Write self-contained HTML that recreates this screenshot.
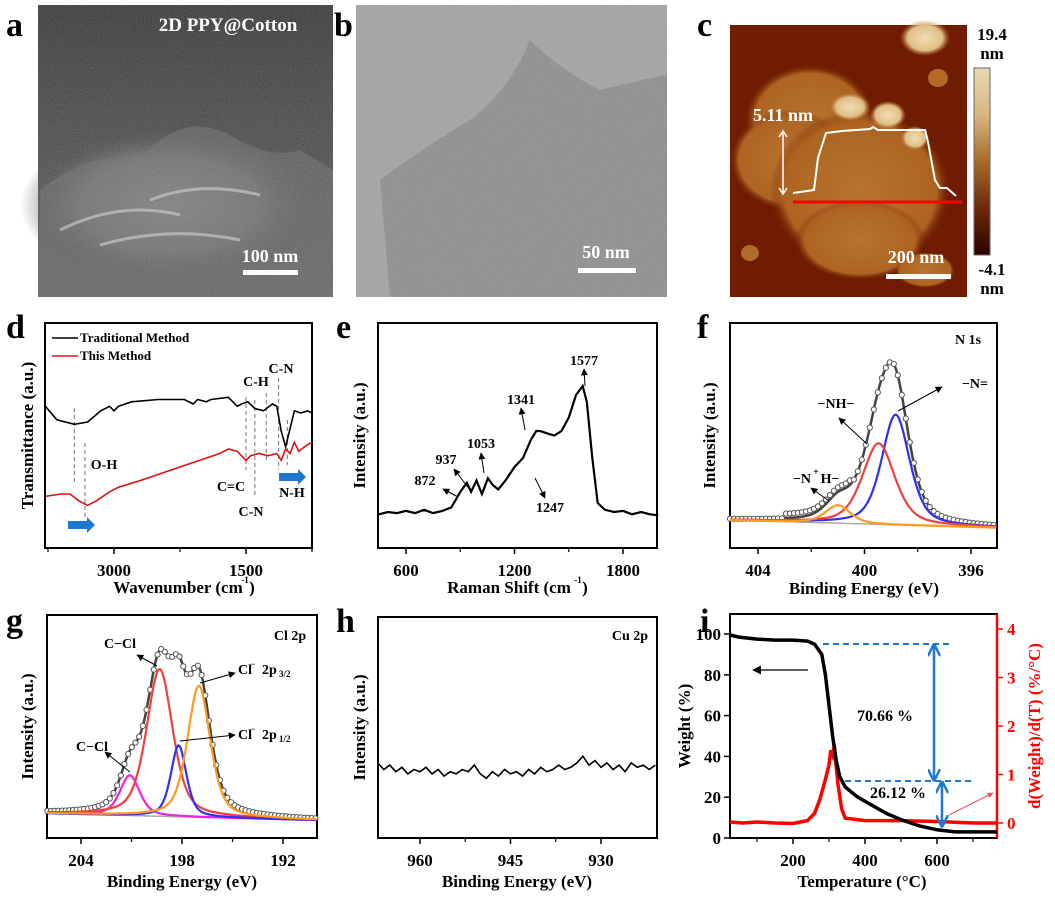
<!DOCTYPE html>
<html><head><meta charset="utf-8"><style>
body{margin:0;background:#fff}
svg text{font-family:"Liberation Serif",serif;font-weight:bold}
</style></head><body>
<svg id="fig" width="1055" height="904" viewBox="0 0 1055 904" xmlns="http://www.w3.org/2000/svg">
<defs>
<radialGradient id="semObj" cx="0.5" cy="0.5" r="0.5"><stop offset="0" stop-color="#9a9a9a"/><stop offset="0.6" stop-color="#777"/><stop offset="1" stop-color="#444" stop-opacity="0"/></radialGradient>
<linearGradient id="semBg" x1="0" y1="0" x2="0" y2="1"><stop offset="0" stop-color="#333"/><stop offset="0.4" stop-color="#444"/><stop offset="1" stop-color="#5a5a5a"/></linearGradient>
<radialGradient id="afmBlob" cx="0.5" cy="0.5" r="0.5"><stop offset="0" stop-color="#b8732e"/><stop offset="0.85" stop-color="#ad6422"/><stop offset="1" stop-color="#7a2a05" stop-opacity="0"/></radialGradient>
<radialGradient id="afmHi" cx="0.5" cy="0.5" r="0.5"><stop offset="0" stop-color="#f0dcb0"/><stop offset="0.7" stop-color="#e0bf88"/><stop offset="1" stop-color="#c08040" stop-opacity="0"/></radialGradient>
<linearGradient id="cbar" x1="0" y1="0" x2="0" y2="1"><stop offset="0" stop-color="#e8d8b4"/><stop offset="0.25" stop-color="#d8b680"/><stop offset="0.5" stop-color="#a86a28"/><stop offset="0.75" stop-color="#6e2a08"/><stop offset="1" stop-color="#2e0000"/></linearGradient>
<filter id="noise"><feTurbulence type="fractalNoise" baseFrequency="0.9" numOctaves="2" seed="3"/><feColorMatrix type="saturate" values="0"/><feComponentTransfer><feFuncA type="linear" slope="0.35"/></feComponentTransfer><feComposite in2="SourceGraphic" operator="in"/></filter>
<marker id="arrB" viewBox="0 0 10 10" refX="9" refY="5" markerWidth="7" markerHeight="7" orient="auto-start-reverse"><path d="M0,0 L10,5 L0,10 z" fill="#000"/></marker>
<marker id="arrBl" viewBox="0 0 10 10" refX="9" refY="5" markerWidth="5" markerHeight="5" orient="auto-start-reverse"><path d="M0,0 L10,5 L0,10" fill="none" stroke="#1e78d0" stroke-width="2"/></marker>
<marker id="arrR" viewBox="0 0 10 10" refX="9" refY="5" markerWidth="6" markerHeight="6" orient="auto"><path d="M0,0 L10,5 L0,10 z" fill="#f05050"/></marker>
</defs>

<g>
<rect x="38" y="5" width="295" height="292" fill="url(#semBg)"/>
<ellipse cx="170" cy="205" rx="150" ry="80" fill="url(#semObj)"/>
<path d="M40,190 Q90,150 140,160 Q180,110 230,135 Q270,160 300,150 L333,170 L333,297 L38,297 Z" fill="#6a6a6a" opacity="0.6"/>
<path d="M60,230 Q120,200 180,215 M100,245 Q170,225 240,240 M150,200 Q200,180 260,195" stroke="#c8c8c8" stroke-width="3" fill="none" opacity="0.7"/>
<rect x="38" y="5" width="295" height="292" fill="#888" filter="url(#noise)"/>
<text x="228" y="31" font-size="19" fill="#fff" text-anchor="middle">2D PPY@Cotton</text>
<text x="270" y="262" font-size="18" fill="#fff" text-anchor="middle">100 nm</text>
<rect x="243" y="270" width="55" height="5" fill="#fff"/>
</g>
<g>
<rect x="356" y="5" width="311" height="292" fill="#a2a2a2"/>
<path d="M390,297 L380,180 Q420,150 470,120 Q510,90 530,40 Q560,70 600,90 Q640,80 667,75 L667,297 Z" fill="#8c8c8c"/>
<rect x="356" y="5" width="311" height="292" fill="#777" filter="url(#noise)"/>
<text x="606" y="258" font-size="18" fill="#fff" text-anchor="middle">50 nm</text>
<rect x="578" y="268" width="58" height="5" fill="#fff"/>
</g>
<g>
<rect x="730" y="25" width="237" height="272" fill="#701c02"/>
<ellipse cx="810" cy="120" rx="65" ry="55" fill="url(#afmBlob)"/>
<ellipse cx="790" cy="160" rx="60" ry="50" fill="url(#afmBlob)"/>
<ellipse cx="860" cy="190" rx="90" ry="80" fill="url(#afmBlob)"/>
<ellipse cx="860" cy="240" rx="65" ry="40" fill="url(#afmBlob)"/>
<ellipse cx="925" cy="270" rx="30" ry="18" fill="url(#afmBlob)"/>
<ellipse cx="925" cy="38" rx="25" ry="18" fill="url(#afmHi)"/>
<ellipse cx="850" cy="107" rx="20" ry="14" fill="url(#afmHi)"/>
<ellipse cx="888" cy="115" rx="18" ry="14" fill="url(#afmHi)"/>
<ellipse cx="915" cy="138" rx="14" ry="12" fill="url(#afmHi)"/>
<ellipse cx="938" cy="78" rx="10" ry="9" fill="#b26a28"/>
<ellipse cx="750" cy="253" rx="9" ry="8" fill="#b06a2a"/>
<polyline points="793,193 814,190 818,158 826,133 842,131 870,129 873,127 878,130 925,130 928,142 935,180 940,188 947,188 956,196" fill="none" stroke="#fff" stroke-width="2"/>
<line x1="793" y1="202" x2="962" y2="202" stroke="#f00" stroke-width="3"/>
<line x1="783" y1="132" x2="783" y2="193" stroke="#fff" stroke-width="1.5"/>
<path d="M779,137 L783,131 L787,137 M779,188 L783,194 L787,188" stroke="#fff" stroke-width="1.5" fill="none"/>
<text x="783" y="121" font-size="18" fill="#fff" text-anchor="middle">5.11 nm</text>
<text x="916" y="263" font-size="18" fill="#fff" text-anchor="middle">200 nm</text>
<rect x="886" y="274" width="65" height="5" fill="#fff"/>
<rect x="974" y="68" width="16" height="187" fill="url(#cbar)" stroke="#666" stroke-width="1"/>
<text x="992" y="40" font-size="17" text-anchor="middle">19.4</text>
<text x="992" y="59" font-size="17" text-anchor="middle">nm</text>
<text x="992" y="275" font-size="17" text-anchor="middle">-4.1</text>
<text x="992" y="294" font-size="17" text-anchor="middle">nm</text>
</g>
<g font-size="34">
<text x="6" y="36">a</text><text x="334" y="36">b</text><text x="697" y="36">c</text>
<text x="6" y="338">d</text><text x="336" y="338">e</text><text x="697" y="338">f</text>
<text x="6" y="632">g</text><text x="336" y="632">h</text><text x="700" y="632">i</text>
</g>
<g id="charts"></g>
</svg>
<script>
const ftirWn = [3780,3650,3450,3300,3150,3050,3000,2950,2800,2500,2200,2100,2050,1950,1900,1700,1600,1550,1480,1400,1300,1200,1150,1100,1050,1000,950,880,800,750];
const ftirTrad = [63,57,55,56,61,63,61,63,65,66,66,64,66,65,66,67,63,64,65,62,61,64,63,52,45,53,61,60,61,60];
const ftirRedWn = [3780,3600,3500,3400,3300,3200,3050,2950,2700,2400,2100,1800,1700,1600,1500,1450,1350,1250,1150,1100,1050,1000,950,900,800,750];
const ftirThis = [23,24,24,21,19,21,25,27,30,34,38,42,44,43,39,41,42,41,42,39,44,42,47,43,46,47];
const ftirTicks = [3000,1500];
const ftirMinor = [3750,2250,750];
const ramanX = [450,500,550,600,650,700,750,800,850,872,900,937,960,990,1020,1053,1080,1110,1150,1200,1247,1290,1320,1341,1380,1420,1460,1500,1540,1577,1600,1630,1660,1700,1750,1800,1850,1900,1950,1995];
const ramanY = [15,16,15.5,16.5,15.5,17,15.5,16.5,18,21,25,29,25,30,24,31,28,26,30,36,40,48,52,52,51,50,52,58,68,72,65,40,20,17,16,16.5,15,16,15,14.5];
const ramanTicks = [600,1200,1800];
const ramanMinor = [900,1500];
const n1sCenters = [398.83, 399.47, 401.0];
const n1sHeights = [49, 36, 8];
const n1sWidths = [0.62, 0.72, 0.55];
const n1sBg = [12.4, 9];
const n1sTicks = [404,400,396];
const n1sMinor = [402,398];
const cl2pCenters = [201.1, 199.33, 198.2, 197.0];
const cl2pHeights = [18, 66, 32, 59];
const cl2pWidths = [0.7, 0.92, 0.55, 0.8];
const cl2pBg = [11, 8];
const cl2pTicks = [204,198,192];
const cl2pMinor = [201,195];
const cuX = [967,966,965,964,963,962,961,960,959,958,957,956,955,954,953,952,951,950,949,948,947,946,945,944,943,942,941,940,939,938,937,936,935,934,933,932,931,930,929,928,927,926,925,924,923,922,921];
const cuY = [34,31,33,30,32,29,31,30,32,29,31,28,30,29,31,30,33,29,27,30,28,31,29,30,28,31,29,32,30,31,33,31,32,34,37,33,35,32,34,31,33,30,34,32,33,31,33];
const cuTicks = [960,945,930];
const cuMinor = [952.5,937.5];
const tgaT = [25,50,100,150,200,240,260,280,290,300,310,320,330,345,380,420,460,500,550,600,650,700,767];
const tgaW = [99.5,98.5,97.5,97,97,96.5,95,90,80,65,50,38,30,25,20,16,12,9,6,4,3,3,3];
const dtgT = [25,60,100,150,200,240,260,275,290,300,305,310,315,318,325,335,345,400,500,600,700,767];
const dtgV = [0.02,0,0.02,0,-0.01,0.05,0.2,0.5,0.9,1.2,1.5,1.4,1.6,1.3,0.8,0.3,0.1,0.05,0.05,0.03,0,0];
const tgaTicks = [200,400,600];
const tgaMinor = [100,300,500,700];
const wTicks = [0,20,40,60,80,100];
const dTicks = [0,1,2,3,4];

const NS = 'http://www.w3.org/2000/svg';
const root = document.getElementById('charts');
function el(tag, attrs, name, parent){
  const e = document.createElementNS(NS, tag);
  for (const k in attrs) e.setAttribute(k, attrs[k]);
  
  
  (parent || root).appendChild(e);
  return e;
}
function txt(x,y,s,size,name,opts){
  const t = el('text', Object.assign({x:x,y:y,'font-size':size,'text-anchor':'middle'}, opts||{}), name);
  t.textContent = s; return t;
}
function lin(d0,d1,r0,r1){ return v => r0 + (v-d0)/(d1-d0)*(r1-r0); }
function path(xs, ys, sx, sy){ return xs.map((v,i)=>(i?'L':'M')+sx(v).toFixed(1)+','+sy(ys[i]).toFixed(1)).join(''); }
function frame(b, sx, ticks, minor, name){
  el('rect',{x:b.x0,y:b.y0,width:b.x1-b.x0,height:b.y1-b.y0,fill:'none',stroke:'#000','stroke-width':2}, name+'-frame');
  ticks.forEach(t=>{
    el('line',{x1:sx(t),x2:sx(t),y1:b.y1,y2:b.y1+6,stroke:'#000','stroke-width':1.5}, name+'-x-tick');
    txt(sx(t), b.y1+28, String(t), 17, name+'-x-tick-label');
  });
  minor.forEach(t=>{ el('line',{x1:sx(t),x2:sx(t),y1:b.y1,y2:b.y1+4,stroke:'#000','stroke-width':1.2}, name+'-x-minor-tick'); });
}
function ylab(x, b, s, name, color){
  const cy=(b.y0+b.y1)/2;
  txt(x, cy, s, 17, name, {transform:'rotate(-90 '+x+' '+cy+')', fill: color||'#000'});
}
function pv(x, c, h, w){ const u=(x-c)/w; return h*(0.5/(1+u*u) + 0.5*Math.exp(-Math.LN2*u*u)); }
function grid(a,b,n){ const r=[]; for(let i=0;i<=n;i++) r.push(a+(b-a)*i/n); return r; }

(function(){
  const b={x0:45,x1:312,y0:323,y1:548};
  const sx=lin(3000,1500,114,246), sy=lin(0,100,548,323);
  frame(b,sx,ftirTicks,ftirMinor,'ftir');
  const dash=[[3450,408,483],[3330,443,518],[1500,397,470],[1400,400,495],[1270,393,463],[1130,378,470],[1030,420,465]];
  dash.forEach(d=>el('line',{x1:sx(d[0]),x2:sx(d[0]),y1:d[1],y2:d[2],stroke:'#888','stroke-width':1.2,'stroke-dasharray':'4,3'},'ftir-peak-marker'));
  el('path',{d:path(ftirWn,ftirTrad,sx,sy),fill:'none',stroke:'#000','stroke-width':1.6},'ftir-traditional-line');
  el('path',{d:path(ftirRedWn,ftirThis,sx,sy),fill:'none',stroke:'#e01010','stroke-width':1.6},'ftir-this-method-line');
  el('line',{x1:52,x2:78,y1:338,y2:338,stroke:'#000','stroke-width':1.6},'legend-traditional-swatch');
  txt(80,342,'Traditional Method',13,'legend-traditional',{'text-anchor':'start'});
  el('line',{x1:52,x2:78,y1:356,y2:356,stroke:'#e01010','stroke-width':1.6},'legend-this-swatch');
  txt(80,360,'This Method',13,'legend-this',{'text-anchor':'start'});
  txt(104,469,'O-H',14,'oh-label'); txt(231,491,'C=C',14,'cc-label'); txt(251,516,'C-N',14,'cn-label');
  txt(256,386,'C-H',14,'ch-label'); txt(281,373,'C-N',14,'cn-label-2'); txt(292,497,'N-H',14,'nh-label');
  el('path',{d:'M68,521 L87,521 L87,517 L95,525 L87,533 L87,529 L68,529 Z',fill:'#1e78d0'},'blue-shift-arrow-oh');
  el('path',{d:'M279,473 L298,473 L298,469 L306,477 L298,485 L298,481 L279,481 Z',fill:'#1e78d0'},'blue-shift-arrow-nh');
  ylab(33,b,'Transmittance (a.u.)','ftir-y-title');
  txt(178,593,'Wavenumber (cm',17,'ftir-x-title');
  txt(245,583,'-1',9,'ftir-x-title-sup'); txt(252,593,')',17,'ftir-x-title-end');
})();

(function(){
  const b={x0:378,x1:657,y0:323,y1:548};
  const sx=lin(600,1800,406,623), sy=lin(0,100,548,323);
  frame(b,sx,ramanTicks,ramanMinor,'raman');
  el('path',{d:path(ramanX,ramanY,sx,sy),fill:'none',stroke:'#000','stroke-width':2.2},'raman-spectrum');
  const labs=[[872,'872',425,485],[937,'937',446,464],[1053,'1053',481,448],[1341,'1341',521,404],[1577,'1577',584,365],[1247,'1247',550,512]];
  labs.forEach(l=>txt(l[2],l[3],l[1],14,'raman-peak-label'));
  const arr=[[443,489,458,497],[454,469,470,490],[481,453,484,473],[521,408,525,430],[584,369,585,386],[545,498,535,478]];
  arr.forEach(a=>el('line',{x1:a[0],y1:a[1],x2:a[2],y2:a[3],stroke:'#000','stroke-width':1,'marker-start':'url(#arrB)'},'raman-peak-arrow'));
  ylab(365,b,'Intensity (a.u.)','raman-y-title');
  txt(509,593,'Raman Shift (cm',17,'raman-x-title');
  txt(578,583,'-1',9,'raman-x-title-sup'); txt(585,593,')',17,'raman-x-title-end');
})();

(function(){
  const b={x0:730,x1:997,y0:323,y1:548};
  const sx=lin(404,396,758,971), sy=lin(0,100,548,323);
  frame(b,sx,n1sTicks,n1sMinor,'n1s');
  const xs=grid(405.05,395.05,200);
  const bg=xs.map(x=>n1sBg[0]+(n1sBg[1]-n1sBg[0])*(405.05-x)/10);
  const cols=['#3030f0','#f04040','#ff9a20'];
  const names=['n1s-n-equals-peak','n1s-nh-peak','n1s-nplus-h-peak'];
  el('path',{d:path(xs,bg,sx,sy),fill:'none',stroke:'#aaa','stroke-width':1.5},'n1s-background');
  const sum=xs.map((x,i)=>bg[i]+n1sCenters.reduce((s,c,k)=>s+pv(x,c,n1sHeights[k],n1sWidths[k]),0));
  el('path',{d:path(xs,sum,sx,sy),fill:'none',stroke:'#444','stroke-width':2.5},'n1s-envelope');
  for(let i=0;i<xs.length;i+=3) el('circle',{cx:sx(xs[i]),cy:sy(sum[i]+ (xs[i]>400.5&&xs[i]<403?2:0)),r:2.6,fill:'#fff',stroke:'#555','stroke-width':1},'n1s-data-point');
  n1sCenters.forEach((c,k)=>{
    const ys=xs.map((x,i)=>bg[i]+pv(x,c,n1sHeights[k],n1sWidths[k]));
    el('path',{d:path(xs,ys,sx,sy),fill:'none',stroke:cols[k],'stroke-width':2.2},names[k]);
  });
  txt(968,344,'N 1s',14,'n1s-title-label');
  txt(975,388,'−N=',14,'n-equals-label'); txt(836,408,'−NH−',14,'nh-label'); txt(802,483,'−N',14,'nplus-h-label');
  txt(816,475,'+',10,'nplus-sup'); txt(830,483,'H−',14,'nplus-h-label-end');
  el('line',{x1:898,y1:411,x2:942,y2:387,stroke:'#000','stroke-width':1,'marker-end':'url(#arrB)'},'n-equals-arrow');
  el('line',{x1:867,y1:444,x2:839,y2:418,stroke:'#000','stroke-width':1,'marker-end':'url(#arrB)'},'nh-arrow');
  el('line',{x1:829,y1:501,x2:811,y2:488,stroke:'#000','stroke-width':1,'marker-end':'url(#arrB)'},'nplus-arrow');
  ylab(715,b,'Intensity (a.u.)','n1s-y-title');
  txt(864,594,'Binding Energy (eV)',17,'n1s-x-title');
})();

(function(){
  const b={x0:47,x1:317,y0:615,y1:838};
  const sx=lin(204,192,81,283), sy=lin(0,100,838,615);
  frame(b,sx,cl2pTicks,cl2pMinor,'cl2p');
  const xs=grid(206,190,220);
  const bg=xs.map(x=>cl2pBg[0]+(cl2pBg[1]-cl2pBg[0])*(206-x)/16);
  el('path',{d:path(xs,bg,sx,sy),fill:'none',stroke:'#aaa','stroke-width':1.5},'cl2p-background');
  const sum=xs.map((x,i)=>bg[i]+cl2pCenters.reduce((s,c,k)=>s+pv(x,c,cl2pHeights[k],cl2pWidths[k]),0));
  el('path',{d:path(xs,sum,sx,sy),fill:'none',stroke:'#444','stroke-width':2.5},'cl2p-envelope');
  for(let i=0;i<xs.length;i+=3) el('circle',{cx:sx(xs[i]),cy:sy(sum[i]),r:2.6,fill:'#fff',stroke:'#555','stroke-width':1},'cl2p-data-point');
  const cols=['#f020e0','#f04040','#3030f0','#ff9a20'];
  const names=['cl2p-c-cl-minor-peak','cl2p-c-cl-peak','cl2p-2p12-peak','cl2p-2p32-peak'];
  cl2pCenters.forEach((c,k)=>{
    const ys=xs.map((x,i)=>bg[i]+pv(x,c,cl2pHeights[k],cl2pWidths[k]));
    el('path',{d:path(xs,ys,sx,sy),fill:'none',stroke:cols[k],'stroke-width':2.2},names[k]);
  });
  txt(290,640,'Cl 2p',14,'cl2p-title-label');
  txt(120,648,'C−Cl',14,'c-cl-label'); txt(92,751,'C−Cl',14,'c-cl-label-2');
  txt(238,674,'Cl',14,'cl-32-label',{'text-anchor':'start'}); txt(253,667,'−',9,'cl-sup');
  txt(262,674,'2p',14,'cl-32-label-b',{'text-anchor':'start'}); txt(279,677,'3/2',9,'cl-sub',{'text-anchor':'start'});
  txt(238,739,'Cl',14,'cl-12-label',{'text-anchor':'start'}); txt(253,732,'−',9,'cl-sup-2');
  txt(262,739,'2p',14,'cl-12-label-b',{'text-anchor':'start'}); txt(279,742,'1/2',9,'cl-sub-2',{'text-anchor':'start'});
  el('line',{x1:157,y1:666,x2:137,y2:655,stroke:'#000','stroke-width':1,'marker-end':'url(#arrB)'},'c-cl-arrow');
  el('line',{x1:130,y1:772,x2:105,y2:752,stroke:'#000','stroke-width':1,'marker-end':'url(#arrB)'},'c-cl-arrow-2');
  el('line',{x1:200,y1:683,x2:235,y2:673,stroke:'#000','stroke-width':1,'marker-end':'url(#arrB)'},'cl-32-arrow');
  el('line',{x1:180,y1:741,x2:235,y2:735,stroke:'#000','stroke-width':1,'marker-end':'url(#arrB)'},'cl-12-arrow');
  ylab(33,b,'Intensity (a.u.)','cl2p-y-title');
  txt(182,887,'Binding Energy (eV)',17,'cl2p-x-title');
})();

(function(){
  const b={x0:378,x1:657,y0:617,y1:838};
  const sx=lin(960,930,420,601), sy=lin(0,100,838,617);
  frame(b,sx,cuTicks,cuMinor,'cu2p');
  el('path',{d:path(cuX,cuY,sx,sy),fill:'none',stroke:'#000','stroke-width':1.6},'cu2p-spectrum');
  txt(630,640,'Cu 2p',14,'cu2p-title-label');
  ylab(365,b,'Intensity (a.u.)','cu2p-y-title');
  txt(517,887,'Binding Energy (eV)',17,'cu2p-x-title');
})();

(function(){
  const b={x0:730,x1:997,y0:614,y1:838};
  const sx=lin(200,600,793,937), sy=lin(0,100,838,634), sy2=lin(0,4,823,629);
  frame(b,sx,tgaTicks,tgaMinor,'tga');
  el('line',{x1:997,x2:997,y1:614,y2:838,stroke:'#f00','stroke-width':2.5},'right-axis-line');
  wTicks.forEach(t=>{ el('line',{x1:724,x2:730,y1:sy(t),y2:sy(t),stroke:'#000','stroke-width':1.5},'weight-tick'); txt(721,sy(t)+6,String(t),17,'weight-tick-label',{'text-anchor':'end'}); });
  dTicks.forEach(t=>{ el('line',{x1:997,x2:1003,y1:sy2(t),y2:sy2(t),stroke:'#f00','stroke-width':1.5},'dtg-tick'); txt(1007,sy2(t)+6,String(t),17,'dtg-tick-label',{'text-anchor':'start',fill:'#f00'}); });
  el('path',{d:path(dtgT,dtgV,sx,sy2),fill:'none',stroke:'#f00','stroke-width':3.5},'dtg-curve');
  el('path',{d:path(tgaT,tgaW,sx,sy),fill:'none',stroke:'#000','stroke-width':3.5},'weight-curve');
  el('line',{x1:823,x2:952,y1:644,y2:644,stroke:'#1e78d0','stroke-width':2,'stroke-dasharray':'6,4'},'upper-dash');
  el('line',{x1:845,x2:972,y1:781,y2:781,stroke:'#1e78d0','stroke-width':2,'stroke-dasharray':'6,4'},'lower-dash');
  el('line',{x1:934,x2:934,y1:645,y2:780,stroke:'#1e78d0','stroke-width':2.5,'marker-start':'url(#arrBl)','marker-end':'url(#arrBl)'},'loss-arrow-70');
  el('line',{x1:942,x2:942,y1:782,y2:826,stroke:'#1e78d0','stroke-width':2.5,'marker-start':'url(#arrBl)','marker-end':'url(#arrBl)'},'loss-arrow-26');
  txt(885,721,'70.66 %',16,'loss-label-70'); txt(898,798,'26.12 %',16,'loss-label-26');
  el('line',{x1:808,y1:670,x2:753,y2:670,stroke:'#000','stroke-width':1.3,'marker-end':'url(#arrB)'},'weight-axis-arrow');
  el('line',{x1:949,y1:815,x2:993,y2:793,stroke:'#f05050','stroke-width':1,'marker-end':'url(#arrR)'},'dtg-axis-arrow');
  ylab(690,b,'Weight (%)','weight-y-title');
  ylab(1040,b,'d(Weight)/d(T) (%/°C)','dtg-y-title','#f00');
  txt(862,887,'Temperature (°C)',17,'tga-x-title');
})();
</script>
</body></html>
